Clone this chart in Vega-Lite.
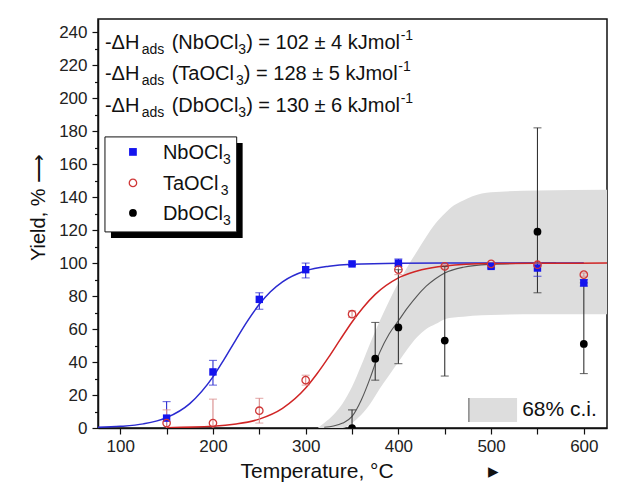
{
  "$schema": "https://vega.github.io/schema/vega-lite/v6.json",
  "width": 509,
  "height": 409,
  "autosize": {"type": "none"},
  "padding": {"left": 98, "top": 19, "right": 10, "bottom": 69},
  "background": "white",
  "config": {
    "font": "Liberation Sans",
    "view": {"stroke": "#111", "strokeWidth": 1.5},
    "axis": {"grid": false, "domainColor": "#111", "tickColor": "#111", "labelColor": "#222", "labelFontSize": 17, "titleFontSize": 20, "titleFontWeight": "normal", "titleColor": "#111", "domainWidth": 1.5, "tickWidth": 1.2, "labelFont": "Liberation Sans", "titleFont": "Liberation Sans", "labelOverlap": false}
  },
  "datasets": {
    "one": [{}],
    "points": [
      {"series": "Nb", "T": 150, "Y": 6, "lo": -4, "hi": 16},
      {"series": "Nb", "T": 200, "Y": 34, "lo": 26, "hi": 41},
      {"series": "Nb", "T": 250, "Y": 78, "lo": 72, "hi": 82},
      {"series": "Nb", "T": 300, "Y": 96, "lo": 91, "hi": 100},
      {"series": "Nb", "T": 350, "Y": 99.5, "lo": 98.5, "hi": 100.5},
      {"series": "Nb", "T": 400, "Y": 100, "lo": 98, "hi": 102.5},
      {"series": "Nb", "T": 500, "Y": 98, "lo": 97, "hi": 99},
      {"series": "Nb", "T": 550, "Y": 97, "lo": 92, "hi": 100},
      {"series": "Nb", "T": 600, "Y": 88, "lo": 86, "hi": 90},
      {"series": "Ta", "T": 150, "Y": 3, "lo": -5, "hi": 11},
      {"series": "Ta", "T": 200, "Y": 3, "lo": -11.5, "hi": 17.5},
      {"series": "Ta", "T": 250, "Y": 10.5, "lo": 3, "hi": 18},
      {"series": "Ta", "T": 300, "Y": 29, "lo": 26, "hi": 32},
      {"series": "Ta", "T": 350, "Y": 69, "lo": 67, "hi": 71},
      {"series": "Ta", "T": 400, "Y": 96, "lo": 93, "hi": 99},
      {"series": "Ta", "T": 450, "Y": 98, "lo": 97, "hi": 99},
      {"series": "Ta", "T": 500, "Y": 99.5, "lo": 99, "hi": 100},
      {"series": "Ta", "T": 550, "Y": 99, "lo": 98, "hi": 100},
      {"series": "Ta", "T": 600, "Y": 93, "lo": 92, "hi": 94},
      {"series": "Db", "T": 350, "Y": 0, "lo": -11, "hi": 11},
      {"series": "Db", "T": 375, "Y": 42, "lo": 29, "hi": 64},
      {"series": "Db", "T": 400, "Y": 61, "lo": 39, "hi": 96},
      {"series": "Db", "T": 450, "Y": 53, "lo": 31.5, "hi": 98},
      {"series": "Db", "T": 550, "Y": 119, "lo": 82, "hi": 182},
      {"series": "Db", "T": 600, "Y": 51, "lo": 33, "hi": 88}
    ],
    "curves": [
      {"series": "Nb", "T": 76, "Y": 0.4}, {"series": "Nb", "T": 100, "Y": 1.0}, {"series": "Nb", "T": 125, "Y": 2.5},
      {"series": "Nb", "T": 150, "Y": 6.3}, {"series": "Nb", "T": 175, "Y": 14.8}, {"series": "Nb", "T": 200, "Y": 31.0},
      {"series": "Nb", "T": 212, "Y": 41.6}, {"series": "Nb", "T": 225, "Y": 53.8}, {"series": "Nb", "T": 237, "Y": 64.7},
      {"series": "Nb", "T": 250, "Y": 75.0}, {"series": "Nb", "T": 262, "Y": 82.6}, {"series": "Nb", "T": 275, "Y": 88.6},
      {"series": "Nb", "T": 300, "Y": 95.3}, {"series": "Nb", "T": 325, "Y": 98.1}, {"series": "Nb", "T": 350, "Y": 99.3},
      {"series": "Nb", "T": 400, "Y": 99.9}, {"series": "Nb", "T": 450, "Y": 100}, {"series": "Nb", "T": 500, "Y": 100},
      {"series": "Nb", "T": 550, "Y": 100}, {"series": "Nb", "T": 600, "Y": 100},
      {"series": "Ta", "T": 150, "Y": 0.2}, {"series": "Ta", "T": 200, "Y": 1.0}, {"series": "Ta", "T": 225, "Y": 2.4},
      {"series": "Ta", "T": 250, "Y": 5.4}, {"series": "Ta", "T": 275, "Y": 11.9}, {"series": "Ta", "T": 300, "Y": 24.2},
      {"series": "Ta", "T": 312, "Y": 32.7}, {"series": "Ta", "T": 325, "Y": 43.1}, {"series": "Ta", "T": 337, "Y": 53.4},
      {"series": "Ta", "T": 350, "Y": 64.3}, {"series": "Ta", "T": 362, "Y": 73.1}, {"series": "Ta", "T": 375, "Y": 81.0},
      {"series": "Ta", "T": 400, "Y": 91.0}, {"series": "Ta", "T": 425, "Y": 96.0}, {"series": "Ta", "T": 450, "Y": 98.3},
      {"series": "Ta", "T": 500, "Y": 99.7}, {"series": "Ta", "T": 550, "Y": 99.9}, {"series": "Ta", "T": 625, "Y": 100},
      {"series": "Db", "T": 320, "Y": 0.5}, {"series": "Db", "T": 330, "Y": 1.2}, {"series": "Db", "T": 340, "Y": 3},
      {"series": "Db", "T": 350, "Y": 7}, {"series": "Db", "T": 360, "Y": 17}, {"series": "Db", "T": 370, "Y": 31},
      {"series": "Db", "T": 375, "Y": 39}, {"series": "Db", "T": 380, "Y": 46}, {"series": "Db", "T": 390, "Y": 57},
      {"series": "Db", "T": 400, "Y": 65}, {"series": "Db", "T": 410, "Y": 73}, {"series": "Db", "T": 420, "Y": 80},
      {"series": "Db", "T": 430, "Y": 86}, {"series": "Db", "T": 440, "Y": 90.5}, {"series": "Db", "T": 450, "Y": 94},
      {"series": "Db", "T": 470, "Y": 97.5}, {"series": "Db", "T": 500, "Y": 99.3}, {"series": "Db", "T": 530, "Y": 99.8},
      {"series": "Db", "T": 570, "Y": 100}
    ],
    "band": [
      {"T": 313, "lo": 0, "hi": 0}, {"T": 320, "lo": 0, "hi": 3}, {"T": 330, "lo": 0, "hi": 8},
      {"T": 340, "lo": 0, "hi": 15}, {"T": 350, "lo": 3, "hi": 25}, {"T": 360, "lo": 8, "hi": 38},
      {"T": 370, "lo": 15, "hi": 52}, {"T": 380, "lo": 24, "hi": 65}, {"T": 390, "lo": 32, "hi": 77},
      {"T": 400, "lo": 40, "hi": 88}, {"T": 410, "lo": 48, "hi": 98}, {"T": 420, "lo": 55, "hi": 107},
      {"T": 430, "lo": 60, "hi": 116}, {"T": 440, "lo": 63, "hi": 124}, {"T": 450, "lo": 66, "hi": 130},
      {"T": 460, "lo": 67, "hi": 135}, {"T": 470, "lo": 67.5, "hi": 138}, {"T": 480, "lo": 68, "hi": 140.5},
      {"T": 500, "lo": 68.5, "hi": 143}, {"T": 550, "lo": 69, "hi": 144}, {"T": 625, "lo": 69, "hi": 144.5}
    ]
  },
  "resolve": {"axis": {"y": "independent", "x": "independent"}},
  "layer": [
    {
      "layer": [
        {
          "data": {"name": "band"},
          "mark": {"type": "area", "color": "#dddddd", "clip": true, "interpolate": "monotone"},
          "encoding": {
            "x": {"field": "T", "type": "quantitative", "scale": {"domain": [76, 625], "nice": false, "zero": false},
              "axis": {"title": "Temperature, °C\u2003\u2003\u2003\u2003\u2002▸", "values": [100, 150, 200, 250, 300, 350, 400, 450, 500, 550, 600],
                "labelExpr": "datum.value % 100 === 0 ? datum.label : ''", "tickSize": 6, "labelPadding": 4, "labelOverlap": false,
                "titleX": 142, "titleY": 49, "titleAlign": "left", "titleBaseline": "alphabetic", "titleFontSize": 21}},
            "y": {"field": "lo", "type": "quantitative", "scale": {"domain": [0, 248], "nice": false},
              "axis": {"title": "Yield, % ⟶", "values": [0, 40, 80, 120, 160, 200, 240], "labelOverlap": false,
                "tickSize": 6, "labelPadding": 5, "titleX": -60, "titleY": 188, "titleAngle": 270, "titleAlign": "center", "titleBaseline": "middle", "titleFontSize": 20}},
            "y2": {"field": "hi"}
          }
        },
        {
          "data": {"name": "curves"},
          "transform": [{"filter": "datum.series === 'Db'"}],
          "mark": {"type": "line", "color": "#555555", "strokeWidth": 1.1, "clip": true, "interpolate": "monotone"},
          "encoding": {"x": {"field": "T", "type": "quantitative"}, "y": {"field": "Y", "type": "quantitative"}}
        },
        {
          "data": {"name": "curves"},
          "transform": [{"filter": "datum.series === 'Nb'"}],
          "mark": {"type": "line", "color": "#2a2ad0", "strokeWidth": 1.5, "clip": true, "interpolate": "monotone"},
          "encoding": {"x": {"field": "T", "type": "quantitative"}, "y": {"field": "Y", "type": "quantitative"}}
        },
        {
          "data": {"name": "curves"},
          "transform": [{"filter": "datum.series === 'Ta'"}],
          "mark": {"type": "line", "color": "#d02525", "strokeWidth": 1.5, "clip": true, "interpolate": "monotone"},
          "encoding": {"x": {"field": "T", "type": "quantitative"}, "y": {"field": "Y", "type": "quantitative"}}
        },
        {
          "data": {"name": "points"},
          "mark": {"type": "rule", "strokeWidth": 1.1, "clip": true},
          "encoding": {
            "x": {"field": "T", "type": "quantitative"},
            "y": {"field": "lo", "type": "quantitative"}, "y2": {"field": "hi"},
            "color": {"field": "series", "type": "nominal", "scale": {"domain": ["Nb", "Ta", "Db"], "range": ["#2b2bd0", "#d88a8a", "#333333"]}, "legend": null}
          }
        },
        {
          "data": {"name": "points"},
          "mark": {"type": "tick", "orient": "horizontal", "size": 8, "thickness": 1.1, "clip": true},
          "encoding": {
            "x": {"field": "T", "type": "quantitative"},
            "y": {"field": "hi", "type": "quantitative"},
            "color": {"field": "series", "type": "nominal", "scale": {"domain": ["Nb", "Ta", "Db"], "range": ["#2b2bd0", "#d88a8a", "#333333"]}, "legend": null}
          }
        },
        {
          "data": {"name": "points"},
          "mark": {"type": "tick", "orient": "horizontal", "size": 8, "thickness": 1.1, "clip": true},
          "encoding": {
            "x": {"field": "T", "type": "quantitative"},
            "y": {"field": "lo", "type": "quantitative"},
            "color": {"field": "series", "type": "nominal", "scale": {"domain": ["Nb", "Ta", "Db"], "range": ["#2b2bd0", "#d88a8a", "#333333"]}, "legend": null}
          }
        },
        {
          "data": {"name": "points"},
          "transform": [{"filter": "datum.series === 'Db'"}],
          "mark": {"type": "point", "shape": "circle", "filled": true, "color": "#000000", "size": 60, "opacity": 1, "clip": true},
          "encoding": {"x": {"field": "T", "type": "quantitative"}, "y": {"field": "Y", "type": "quantitative"}}
        },
        {
          "data": {"name": "points"},
          "transform": [{"filter": "datum.series === 'Nb'"}],
          "mark": {"type": "point", "shape": "square", "filled": true, "color": "#1414ee", "size": 55, "opacity": 1, "clip": true},
          "encoding": {"x": {"field": "T", "type": "quantitative"}, "y": {"field": "Y", "type": "quantitative"}}
        },
        {
          "data": {"name": "points"},
          "transform": [{"filter": "datum.series === 'Ta'"}],
          "mark": {"type": "point", "shape": "circle", "filled": false, "color": "#d03838", "strokeWidth": 1.3, "size": 55, "opacity": 1, "clip": true},
          "encoding": {"x": {"field": "T", "type": "quantitative"}, "y": {"field": "Y", "type": "quantitative"}}
        },
        {"data": {"name": "one"}, "mark": {"type": "rect", "color": "#000000"}, "encoding": {"x": {"datum": 90}, "x2": {"datum": 232}, "y": {"datum": 172.8}, "y2": {"datum": 115.2}}},
        {"data": {"name": "one"}, "mark": {"type": "rect", "fill": "#ffffff", "stroke": "#111111", "strokeWidth": 1}, "encoding": {"x": {"datum": 83.5}, "x2": {"datum": 225.6}, "y": {"datum": 176.5}, "y2": {"datum": 118.9}}},
        {"data": {"name": "one"}, "mark": {"type": "point", "shape": "square", "filled": true, "color": "#1414ee", "size": 60, "opacity": 1}, "encoding": {"x": {"datum": 113.7}, "y": {"datum": 167.4}}},
        {"data": {"name": "one"}, "mark": {"type": "point", "shape": "circle", "filled": false, "color": "#d03838", "strokeWidth": 1.3, "size": 55, "opacity": 1}, "encoding": {"x": {"datum": 113.7}, "y": {"datum": 148.6}}},
        {"data": {"name": "one"}, "mark": {"type": "point", "shape": "circle", "filled": true, "color": "#000000", "size": 60, "opacity": 1}, "encoding": {"x": {"datum": 113.7}, "y": {"datum": 130.4}}},
        {"data": {"name": "one"}, "mark": {"type": "text", "align": "left", "baseline": "alphabetic", "fontSize": 20, "color": "#111"}, "encoding": {"x": {"datum": 146}, "y": {"datum": 163.2}, "text": {"value": "NbOCl"}}},
        {"data": {"name": "one"}, "mark": {"type": "text", "align": "left", "baseline": "alphabetic", "fontSize": 14, "dx": 60, "dy": 5, "color": "#111"}, "encoding": {"x": {"datum": 146}, "y": {"datum": 163.2}, "text": {"value": "3"}}},
        {"data": {"name": "one"}, "mark": {"type": "text", "align": "left", "baseline": "alphabetic", "fontSize": 20, "color": "#111"}, "encoding": {"x": {"datum": 146}, "y": {"datum": 144.4}, "text": {"value": "TaOCl"}}},
        {"data": {"name": "one"}, "mark": {"type": "text", "align": "left", "baseline": "alphabetic", "fontSize": 14, "dx": 57.8, "dy": 5, "color": "#111"}, "encoding": {"x": {"datum": 146}, "y": {"datum": 144.4}, "text": {"value": "3"}}},
        {"data": {"name": "one"}, "mark": {"type": "text", "align": "left", "baseline": "alphabetic", "fontSize": 20, "color": "#111"}, "encoding": {"x": {"datum": 146}, "y": {"datum": 126.2}, "text": {"value": "DbOCl"}}},
        {"data": {"name": "one"}, "mark": {"type": "text", "align": "left", "baseline": "alphabetic", "fontSize": 14, "dx": 60, "dy": 5, "color": "#111"}, "encoding": {"x": {"datum": 146}, "y": {"datum": 126.2}, "text": {"value": "3"}}},

        {"data": {"name": "one"}, "mark": {"type": "text", "align": "left", "baseline": "alphabetic", "fontSize": 20, "color": "#111"}, "encoding": {"x": {"datum": 83.5}, "y": {"datum": 229.7}, "text": {"value": "-ΔH"}}},
        {"data": {"name": "one"}, "mark": {"type": "text", "align": "left", "baseline": "alphabetic", "fontSize": 14, "dx": 36.7, "dy": 5, "color": "#111"}, "encoding": {"x": {"datum": 83.5}, "y": {"datum": 229.7}, "text": {"value": "ads"}}},
        {"data": {"name": "one"}, "mark": {"type": "text", "align": "left", "baseline": "alphabetic", "fontSize": 20, "dx": 66.7, "color": "#111"}, "encoding": {"x": {"datum": 83.5}, "y": {"datum": 229.7}, "text": {"value": "(NbOCl"}}},
        {"data": {"name": "one"}, "mark": {"type": "text", "align": "left", "baseline": "alphabetic", "fontSize": 14, "dx": 133.4, "dy": 5, "color": "#111"}, "encoding": {"x": {"datum": 83.5}, "y": {"datum": 229.7}, "text": {"value": "3"}}},
        {"data": {"name": "one"}, "mark": {"type": "text", "align": "left", "baseline": "alphabetic", "fontSize": 20, "dx": 141.2, "color": "#111"}, "encoding": {"x": {"datum": 83.5}, "y": {"datum": 229.7}, "text": {"value": ") = 102 ± 4 kJmol"}}},
        {"data": {"name": "one"}, "mark": {"type": "text", "align": "left", "baseline": "alphabetic", "fontSize": 14, "dx": 295.7, "dy": -9, "color": "#111"}, "encoding": {"x": {"datum": 83.5}, "y": {"datum": 229.7}, "text": {"value": "-1"}}},

        {"data": {"name": "one"}, "mark": {"type": "text", "align": "left", "baseline": "alphabetic", "fontSize": 20, "color": "#111"}, "encoding": {"x": {"datum": 83.5}, "y": {"datum": 210.8}, "text": {"value": "-ΔH"}}},
        {"data": {"name": "one"}, "mark": {"type": "text", "align": "left", "baseline": "alphabetic", "fontSize": 14, "dx": 36.7, "dy": 5, "color": "#111"}, "encoding": {"x": {"datum": 83.5}, "y": {"datum": 210.8}, "text": {"value": "ads"}}},
        {"data": {"name": "one"}, "mark": {"type": "text", "align": "left", "baseline": "alphabetic", "fontSize": 20, "dx": 66.7, "color": "#111"}, "encoding": {"x": {"datum": 83.5}, "y": {"datum": 210.8}, "text": {"value": "(TaOCl"}}},
        {"data": {"name": "one"}, "mark": {"type": "text", "align": "left", "baseline": "alphabetic", "fontSize": 14, "dx": 131.1, "dy": 5, "color": "#111"}, "encoding": {"x": {"datum": 83.5}, "y": {"datum": 210.8}, "text": {"value": "3"}}},
        {"data": {"name": "one"}, "mark": {"type": "text", "align": "left", "baseline": "alphabetic", "fontSize": 20, "dx": 138.9, "color": "#111"}, "encoding": {"x": {"datum": 83.5}, "y": {"datum": 210.8}, "text": {"value": ") = 128 ± 5 kJmol"}}},
        {"data": {"name": "one"}, "mark": {"type": "text", "align": "left", "baseline": "alphabetic", "fontSize": 14, "dx": 293.4, "dy": -9, "color": "#111"}, "encoding": {"x": {"datum": 83.5}, "y": {"datum": 210.8}, "text": {"value": "-1"}}},

        {"data": {"name": "one"}, "mark": {"type": "text", "align": "left", "baseline": "alphabetic", "fontSize": 20, "color": "#111"}, "encoding": {"x": {"datum": 83.5}, "y": {"datum": 191.8}, "text": {"value": "-ΔH"}}},
        {"data": {"name": "one"}, "mark": {"type": "text", "align": "left", "baseline": "alphabetic", "fontSize": 14, "dx": 36.7, "dy": 5, "color": "#111"}, "encoding": {"x": {"datum": 83.5}, "y": {"datum": 191.8}, "text": {"value": "ads"}}},
        {"data": {"name": "one"}, "mark": {"type": "text", "align": "left", "baseline": "alphabetic", "fontSize": 20, "dx": 66.7, "color": "#111"}, "encoding": {"x": {"datum": 83.5}, "y": {"datum": 191.8}, "text": {"value": "(DbOCl"}}},
        {"data": {"name": "one"}, "mark": {"type": "text", "align": "left", "baseline": "alphabetic", "fontSize": 14, "dx": 133.4, "dy": 5, "color": "#111"}, "encoding": {"x": {"datum": 83.5}, "y": {"datum": 191.8}, "text": {"value": "3"}}},
        {"data": {"name": "one"}, "mark": {"type": "text", "align": "left", "baseline": "alphabetic", "fontSize": 20, "dx": 141.2, "color": "#111"}, "encoding": {"x": {"datum": 83.5}, "y": {"datum": 191.8}, "text": {"value": ") = 130 ± 6 kJmol"}}},
        {"data": {"name": "one"}, "mark": {"type": "text", "align": "left", "baseline": "alphabetic", "fontSize": 14, "dx": 295.7, "dy": -9, "color": "#111"}, "encoding": {"x": {"datum": 83.5}, "y": {"datum": 191.8}, "text": {"value": "-1"}}},

        {"data": {"name": "one"}, "mark": {"type": "rect", "color": "#dddddd"}, "encoding": {"x": {"datum": 476}, "x2": {"datum": 528}, "y": {"datum": 18.2}, "y2": {"datum": 3.6}}},
        {"data": {"name": "one"}, "mark": {"type": "rule", "color": "#888888", "strokeWidth": 1.5}, "encoding": {"x": {"datum": 476}, "y": {"datum": 18.2}, "y2": {"datum": 3.6}}},
        {"data": {"name": "one"}, "mark": {"type": "text", "align": "left", "baseline": "middle", "fontSize": 21, "color": "#111"}, "encoding": {"x": {"datum": 533.5}, "y": {"datum": 10.9}, "text": {"value": "68% c.i."}}}
      ]
    },
    {
      "data": {"name": "one"},
      "mark": {"type": "point", "opacity": 0},
      "encoding": {
        "x": {"datum": 300, "type": "quantitative", "axis": null},
        "y": {"datum": 100, "type": "quantitative", "axis": {"orient": "left", "values": [20, 60, 100, 140, 180, 220], "labelOverlap": false, "tickSize": 6, "labelPadding": 5, "domain": false, "title": null, "grid": false}}
      }
    },
    {
      "data": {"name": "one"},
      "mark": {"type": "point", "opacity": 0},
      "encoding": {
        "x": {"datum": 300, "type": "quantitative", "axis": null},
        "y": {"datum": 100, "type": "quantitative", "axis": {"orient": "left", "values": [10, 30, 50, 70, 90, 110, 130, 150, 170, 190, 210, 230], "labels": false, "tickSize": 3.5, "domain": false, "title": null, "grid": false}}
      }
    }
  ]
}
